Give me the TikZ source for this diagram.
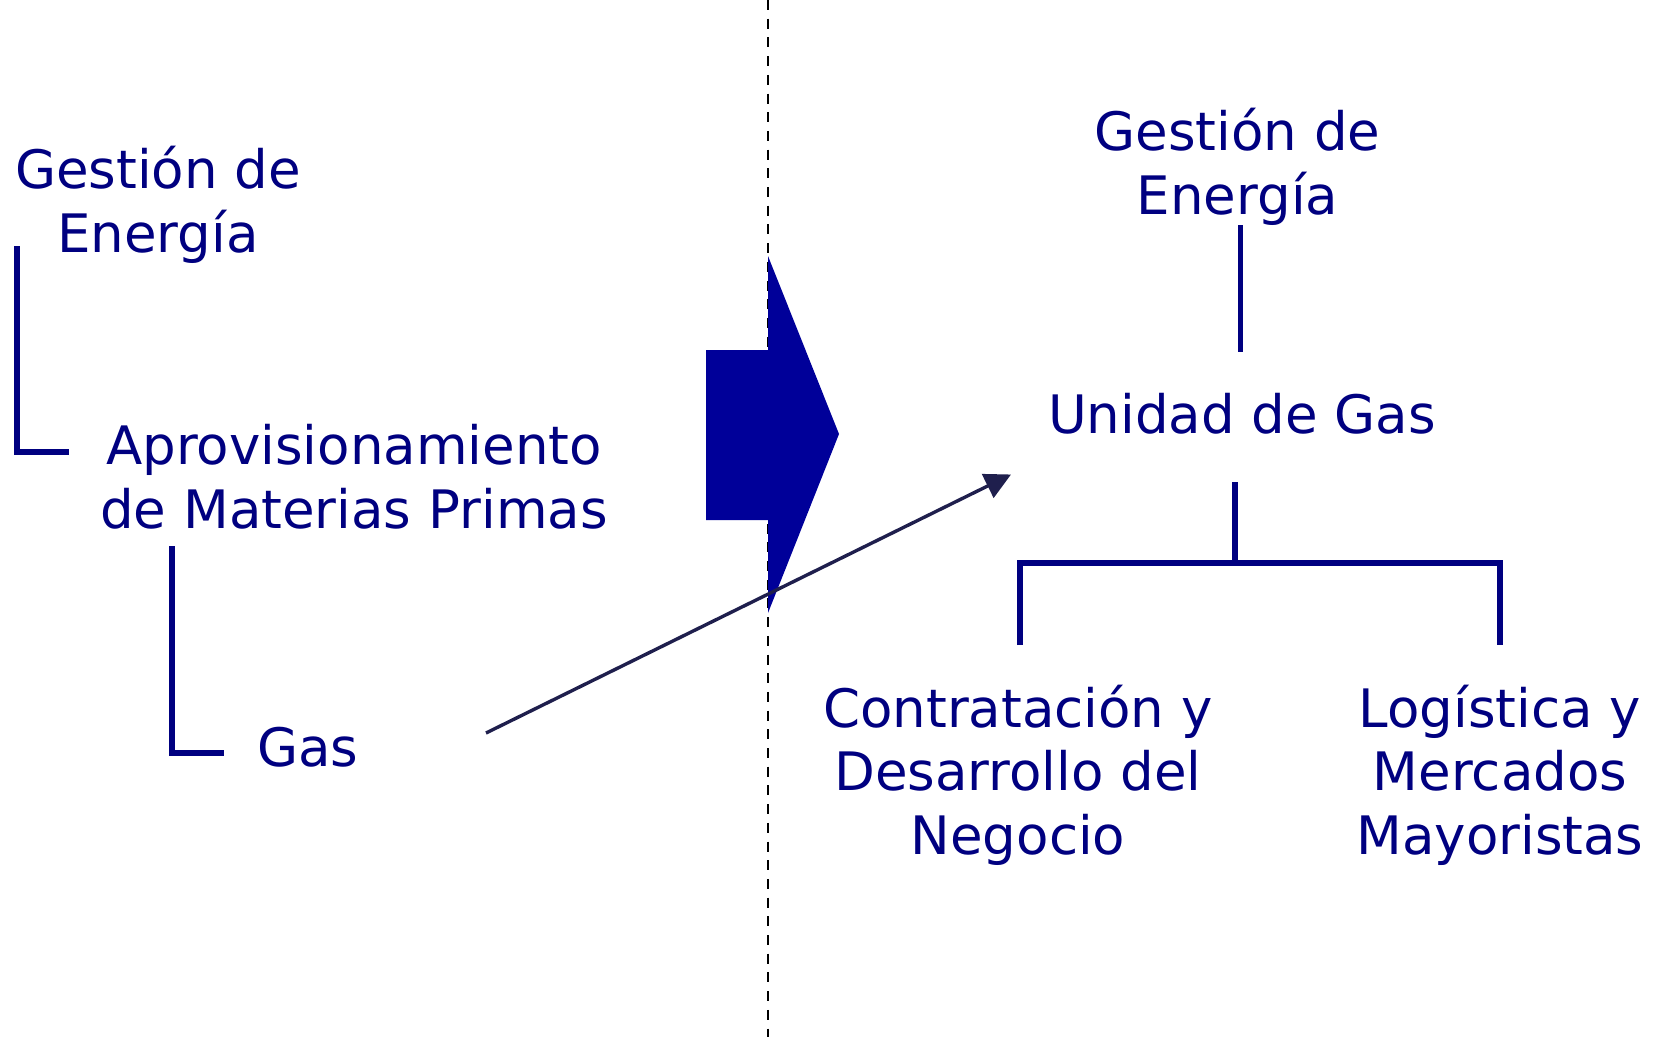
\documentclass[tikz,border=0pt]{standalone}
\usepackage{fontspec}
\setmainfont{DejaVu Sans}
\usetikzlibrary{arrows.meta}

\definecolor{navy}{RGB}{0,0,128}
\definecolor{bigarrow}{RGB}{0,0,153}
\definecolor{linkink}{RGB}{31,31,77}

\tikzset{
  orglabel/.style={font=\fontsize{53}{63.5}\selectfont, text=navy, align=center, inner sep=0pt},
  treeline/.style={draw=navy, line width=5.5pt},
  splitline/.style={draw=black, line width=2.2pt, dash pattern=on 10pt off 8.7pt}
}

\begin{document}
\begin{tikzpicture}[x=1pt, y=-1pt]
  \useasboundingbox (0,0) rectangle (1657,1037);

  % dividing line
  \coordinate (divtop) at (768,0);
  \coordinate (divbot) at (768,1037);
  \draw[splitline] (divtop) -- (divbot);

  % block arrow
  \fill[bigarrow] (706,350) -- (768,350) -- (768,256) -- (839,434)
                  -- (768,613) -- (768,520) -- (706,520) -- cycle;

  % old structure
  \node[orglabel] (lgest) at (158,205) {Gestión de\\Energía};
  \node[orglabel] (aprov) at (354,476.5) {Aprovisionamiento\\de Materias Primas};
  \node[orglabel, anchor=base] (lgas) at (308,766) {Gas};

  \coordinate (b1top) at (17,246);
  \coordinate (b1end) at (69,452);
  \coordinate (b2top) at (172,546);
  \coordinate (b2end) at (224,753);
  \draw[treeline] (b1top) |- (b1end);
  \draw[treeline] (b2top) |- (b2end);

  % new structure
  \node[orglabel] (rgest) at (1237.5,167) {Gestión de\\Energía};
  \node[orglabel, anchor=base] (unidad) at (1242,433) {Unidad de Gas};
  \node[orglabel] (contrat) at (1018,775) {Contratación y\\Desarrollo del\\Negocio};
  \node[orglabel] (logist) at (1500,775) {Logística y\\Mercados\\Mayoristas};

  \coordinate (t1a) at (1240.5,225);
  \coordinate (t1b) at (1240.5,352);
  \coordinate (t2a) at (1235,482);
  \coordinate (t2b) at (1235,563);
  \coordinate (tl) at (1020,645);
  \coordinate (tr) at (1500,645);
  \draw[treeline] (t1a) -- (t1b);
  \draw[treeline] (t2a) -- (t2b);
  \draw[treeline] (tl) |- (t2b) -| (tr);

  % link from Gas to new unit
  \coordinate (linkfrom) at (486,733);
  \coordinate (linkto) at (1011,474.5);
  \draw[linkink, line width=3.4pt, -{Triangle[length=26pt, width=26pt]}] (linkfrom) -- (linkto);
\end{tikzpicture}
\end{document}
